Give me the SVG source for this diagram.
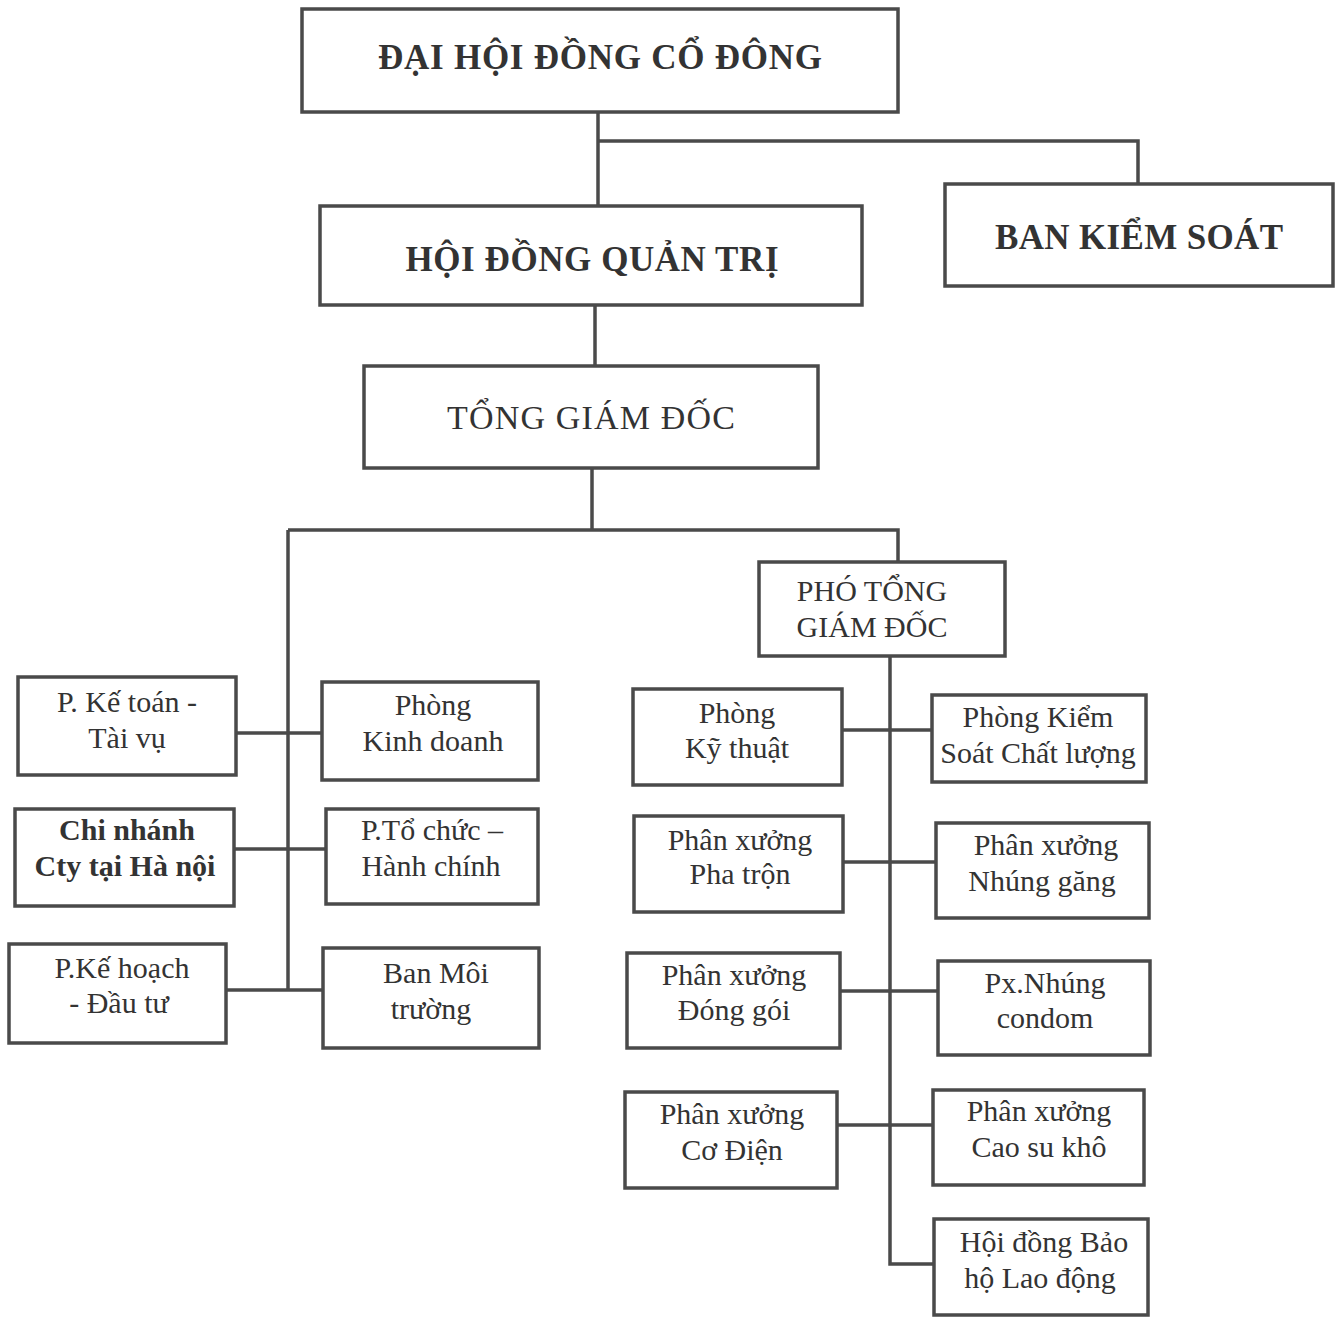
<svg xmlns="http://www.w3.org/2000/svg" width="1341" height="1317" viewBox="0 0 1341 1317">
<style>
.bg{fill:#ffffff}
.box{fill:#ffffff;stroke:#4a4a4a;stroke-width:3.5}
.t{font-family:"Liberation Serif","Times New Roman",serif;fill:#333333;text-anchor:middle}
.title{font-size:35px;font-weight:bold}
.big{font-size:34px}
.n{font-size:30px}
.b{font-size:30px;font-weight:bold}
.c{fill:none;stroke:#4a4a4a;stroke-width:3.5}
</style>
<rect class="bg" x="0" y="0" width="1341" height="1317"/>
<g id="connectors">
<path class="c" d="M598,112 V207"/>
<path class="c" d="M598,141 H1138 V185"/>
<path class="c" d="M595,305 V366"/>
<path class="c" d="M592,468 V530"/>
<path class="c" d="M288,530 H898 V562"/>
<path class="c" d="M288,530 V990"/>
<path class="c" d="M236,733 H322"/>
<path class="c" d="M234,849 H326"/>
<path class="c" d="M226,990 H323"/>
<path class="c" d="M890,656 V1264 H933"/>
<path class="c" d="M842,730 H932"/>
<path class="c" d="M843,862 H936"/>
<path class="c" d="M840,991 H938"/>
<path class="c" d="M837,1125 H933"/>
</g>
<g id="dai-hoi">
<rect class="box" x="302" y="9" width="596" height="103"/>
<text class="t title" x="600" y="69" textLength="444">ĐẠI HỘI ĐỒNG CỔ ĐÔNG</text>
</g>
<g id="ban-kiem-soat">
<rect class="box" x="945" y="184" width="388" height="102"/>
<text class="t title" x="1139" y="249" textLength="288">BAN KIỂM SOÁT</text>
</g>
<g id="hoi-dong-quan-tri">
<rect class="box" x="320" y="206" width="542" height="99"/>
<text class="t title" x="592" y="271" textLength="373">HỘI ĐỒNG QUẢN TRỊ</text>
</g>
<g id="tong-giam-doc">
<rect class="box" x="364" y="366" width="454" height="102"/>
<text class="t big" x="591" y="429" textLength="288">TỔNG GIÁM ĐỐC</text>
</g>
<g id="pho-tong-giam-doc">
<rect class="box" x="759" y="562" width="246" height="94"/>
<text class="t n" x="872" y="601">PHÓ TỔNG</text>
<text class="t n" x="872" y="637">GIÁM ĐỐC</text>
</g>
<g id="ke-toan">
<rect class="box" x="18" y="677" width="218" height="98"/>
<text class="t n" x="127" y="712">P. Kế toán -</text>
<text class="t n" x="127" y="748">Tài vụ</text>
</g>
<g id="kinh-doanh">
<rect class="box" x="322" y="682" width="216" height="98"/>
<text class="t n" x="433" y="715">Phòng</text>
<text class="t n" x="433" y="751">Kinh doanh</text>
</g>
<g id="chi-nhanh">
<rect class="box" x="15" y="809" width="219" height="97"/>
<text class="t b" x="127" y="840">Chi nhánh</text>
<text class="t b" x="125" y="876">Cty tại Hà nội</text>
</g>
<g id="to-chuc">
<rect class="box" x="326" y="809" width="212" height="95"/>
<text class="t n" x="432" y="840">P.Tổ chức –</text>
<text class="t n" x="431" y="876">Hành chính</text>
</g>
<g id="ke-hoach">
<rect class="box" x="9" y="944" width="217" height="99"/>
<text class="t n" x="122" y="978">P.Kế hoạch</text>
<text class="t n" x="119" y="1013">- Đầu tư</text>
</g>
<g id="ban-moi-truong">
<rect class="box" x="323" y="948" width="216" height="100"/>
<text class="t n" x="436" y="983">Ban Môi</text>
<text class="t n" x="431" y="1019">trường</text>
</g>
<g id="ky-thuat">
<rect class="box" x="633" y="689" width="209" height="96"/>
<text class="t n" x="737" y="723">Phòng</text>
<text class="t n" x="737" y="758">Kỹ thuật</text>
</g>
<g id="kiem-soat-chat-luong">
<rect class="box" x="932" y="695" width="214" height="87"/>
<text class="t n" x="1038" y="727">Phòng Kiểm</text>
<text class="t n" x="1038" y="763">Soát Chất lượng</text>
</g>
<g id="pha-tron">
<rect class="box" x="634" y="816" width="209" height="96"/>
<text class="t n" x="740" y="850">Phân xưởng</text>
<text class="t n" x="740" y="884">Pha trộn</text>
</g>
<g id="nhung-gang">
<rect class="box" x="936" y="823" width="213" height="95"/>
<text class="t n" x="1046" y="855">Phân xưởng</text>
<text class="t n" x="1042" y="891">Nhúng găng</text>
</g>
<g id="dong-goi">
<rect class="box" x="627" y="953" width="213" height="95"/>
<text class="t n" x="734" y="985">Phân xưởng</text>
<text class="t n" x="734" y="1020">Đóng gói</text>
</g>
<g id="nhung-condom">
<rect class="box" x="938" y="961" width="212" height="94"/>
<text class="t n" x="1045" y="993">Px.Nhúng</text>
<text class="t n" x="1045" y="1028">condom</text>
</g>
<g id="co-dien">
<rect class="box" x="625" y="1092" width="212" height="96"/>
<text class="t n" x="732" y="1124">Phân xưởng</text>
<text class="t n" x="732" y="1160">Cơ Điện</text>
</g>
<g id="cao-su-kho">
<rect class="box" x="933" y="1090" width="211" height="95"/>
<text class="t n" x="1039" y="1121">Phân xưởng</text>
<text class="t n" x="1039" y="1157">Cao su khô</text>
</g>
<g id="bao-ho-lao-dong">
<rect class="box" x="934" y="1219" width="214" height="96"/>
<text class="t n" x="1044" y="1252">Hội đồng Bảo</text>
<text class="t n" x="1040" y="1288">hộ Lao động</text>
</g>
</svg>
